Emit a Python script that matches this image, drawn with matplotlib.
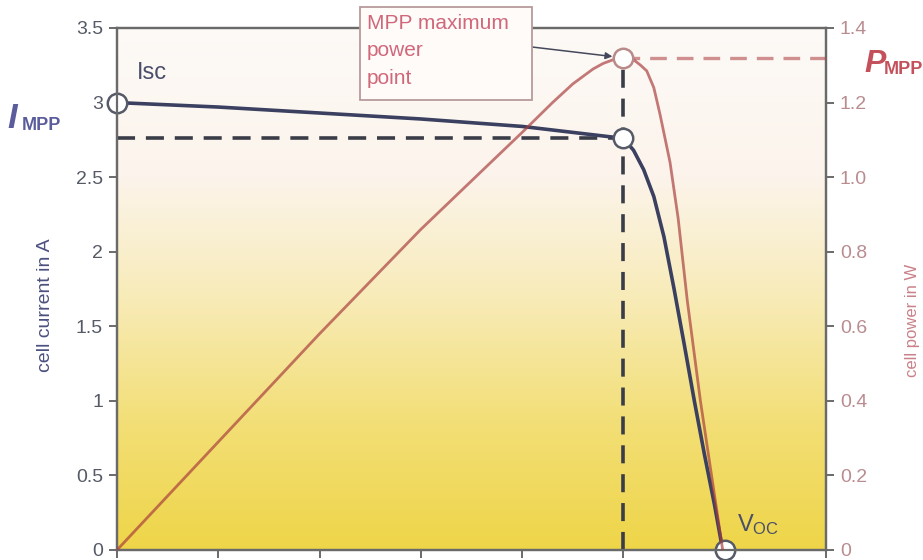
import matplotlib
matplotlib.use('Agg')
import matplotlib.pyplot as plt
import numpy as np
from matplotlib.colors import LinearSegmentedColormap
from matplotlib.patches import Rectangle

plt.rcParams['font.family'] = ['Liberation Sans', 'DejaVu Sans']
plt.rcParams['mathtext.default'] = 'regular'

# I-V curve (voltage in V, current in A)
voltage = [0, 0.1, 0.2, 0.3, 0.4, 0.45, 0.5, 0.51, 0.52, 0.53, 0.54,
           0.55, 0.56, 0.57, 0.58, 0.59, 0.598]
current = [3.0, 2.97, 2.93, 2.89, 2.84, 2.80, 2.76, 2.68, 2.55, 2.37, 2.10,
           1.75, 1.38, 1.0, 0.64, 0.30, 0.0]

# P-V curve (voltage in V, power in W)
power_v = [0, 0.1, 0.2, 0.3, 0.35, 0.4, 0.43, 0.45, 0.47, 0.48, 0.49, 0.5,
           0.51, 0.517, 0.523, 0.53, 0.536, 0.546, 0.554, 0.563, 0.576, 0.598]
power_w = [0, 0.29, 0.58, 0.86, 0.99, 1.12, 1.20, 1.25, 1.29, 1.305, 1.315, 1.32,
           1.315, 1.30, 1.285, 1.24, 1.17, 1.04, 0.89, 0.67, 0.40, 0.0]

v_mpp, i_mpp, p_mpp = 0.5, 2.76, 1.32
v_oc, i_sc = 0.6, 3.0

left_ticks = [0, 0.5, 1, 1.5, 2, 2.5, 3, 3.5]
left_labels = ['0', '0.5', '1', '1.5', '2', '2.5', '3', '3.5']
right_ticks = [0, 0.2, 0.4, 0.6, 0.8, 1.0, 1.2, 1.4]
right_labels = ['0', '0.2', '0.4', '0.6', '0.8', '1.0', '1.2', '1.4']
x_ticks = [0, 0.1, 0.2, 0.3, 0.4, 0.5, 0.6, 0.7]

navy = '#3b4060'
dash_col = '#3a3d48'
spine_col = '#6a6a6a'
W, H = 923, 560

fig = plt.figure(figsize=(9.23, 5.6), dpi=100)
ax = fig.add_axes([117 / W, 1 - 550 / H, (826 - 117) / W, (550 - 28) / H])

# background gradient: yellow at the bottom fading to near white at the top
cmap = LinearSegmentedColormap.from_list('bg', [(0, '#eed548'), (0.25, '#f3df78'),
                                               (0.5, '#f8ecbc'), (0.72, '#fcf4ec'),
                                               (1, '#fdfaf7')])
grad = np.linspace(0, 1, 256).reshape(-1, 1)
ax.imshow(grad, extent=[0, 0.7, 0, 3.5], origin='lower', aspect='auto', cmap=cmap, zorder=0)
ax.set_xlim(0, 0.7)
ax.set_ylim(0, 3.5)

ax2 = ax.twinx()
ax2.set_ylim(0, 1.4)

# power curve (semi transparent so it turns brownish over the yellow)
ax2.plot(power_v, power_w, color='#a83c3c', alpha=0.68, lw=2.0, zorder=3,
         solid_capstyle='round')

# current curve
ax.plot(voltage, current, color=navy, lw=2.6, zorder=4, solid_capstyle='round')

# dashed guides
ax.plot([0, v_mpp], [i_mpp, i_mpp], color=dash_col, lw=2.6, ls=(0, (5, 3)), zorder=3)
ax.plot([v_mpp, v_mpp], [0, p_mpp * 2.5], color=dash_col, lw=2.6, ls=(0, (5, 3)), zorder=3)
ax2.plot([v_mpp, 0.7], [p_mpp, p_mpp], color='#b04a4a', alpha=0.6, lw=2.4,
         ls=(0, (5, 3)), zorder=3)

# marker circles
ax.plot([0, v_mpp, v_oc], [i_sc, i_mpp, 0], 'o', ms=14, mfc='white', mec='#555a66',
        mew=1.8, zorder=6, clip_on=False)
ax2.plot([v_mpp], [p_mpp], 'o', ms=14, mfc='white', mec='#b88a8a', mew=1.8, zorder=6)

# axes styling
for a in (ax, ax2):
    for s in a.spines.values():
        s.set_color(spine_col)
        s.set_linewidth(1.6)
ax.set_xticks(x_ticks)
ax.set_xticklabels([])
ax.set_yticks(left_ticks)
ax.set_yticklabels(left_labels)
ax.tick_params(axis='both', direction='out', length=6, width=1.4, color=spine_col,
               labelsize=14, labelcolor='#555a66', pad=4)
ax2.set_yticks(right_ticks)
ax2.set_yticklabels(right_labels)
ax2.tick_params(axis='y', direction='out', length=6, width=1.4, color=spine_col,
                labelsize=14, labelcolor='#b98c90', pad=4)

# labels
ax.text(0.02, 3.2, 'Isc', fontsize=17, color='#4a4e6a', va='center', ha='left')
ax.text(0.612, 0.17, r'V$_{OC}$', fontsize=17, color='#4a4e6a', va='center', ha='left')

fig.text(45 / W, 1 - 305 / H, 'cell current in A', rotation=90, fontsize=14,
         color='#4c5080', ha='center', va='center')
fig.text(913 / W, 1 - 320 / H, 'cell power in W', rotation=90, fontsize=12,
         color='#c98088', ha='center', va='center')

fig.text(7 / W, 1 - 119 / H, 'I', fontsize=25, fontweight='bold', style='italic',
         color='#5a5c9c', ha='left', va='center')
fig.text(22 / W, 1 - 126 / H, 'MPP', fontsize=13, fontweight='bold',
         color='#5a5c9c', ha='left', va='center')
fig.text(864 / W, 1 - 64 / H, 'P', fontsize=23, fontweight='bold', style='italic',
         color='#c4505c', ha='left', va='center')
fig.text(884 / W, 1 - 70 / H, 'MPP', fontsize=13, fontweight='bold',
         color='#c4505c', ha='left', va='center')

# annotation box with arrow to the MPP
box = Rectangle((360 / W, 1 - 100 / H), (532 - 360) / W, (100 - 7) / H,
                transform=fig.transFigure, fc='#fefbf9', ec='#b89a9c', lw=1.3, zorder=8)
fig.patches.append(box)
fig.text(367 / W, 1 - 14 / H, 'MPP maximum\npower\npoint', fontsize=15, color='#d0687a',
         ha='left', va='top', linespacing=1.55, zorder=9)
ax2.annotate('', xy=(v_mpp, p_mpp), xycoords='data',
             xytext=(532, H - 47), textcoords='figure pixels',
             arrowprops=dict(arrowstyle='-|>', color='#44485a', lw=1.1,
                             shrinkA=0, shrinkB=8, mutation_scale=10),
             zorder=8, annotation_clip=False)

fig.savefig('out.png', dpi=100)
